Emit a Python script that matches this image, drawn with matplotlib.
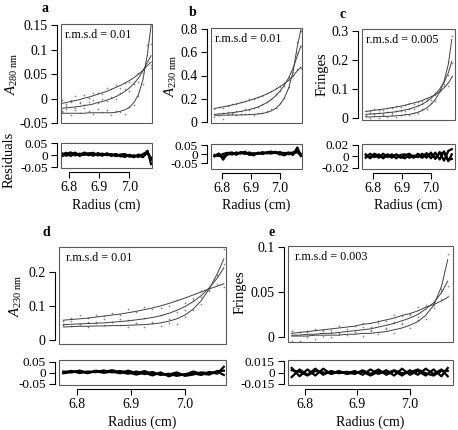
import numpy as np
import matplotlib
matplotlib.use("Agg")
import matplotlib.pyplot as plt
from matplotlib.patches import Rectangle

plt.rcParams["font.family"] = ["Liberation Serif", "DejaVu Serif"]
plt.rcParams["mathtext.fontset"] = "custom"
plt.rcParams["mathtext.rm"] = "Liberation Serif"
plt.rcParams["mathtext.it"] = "Liberation Serif:italic"

W, H = 458, 430

# ── Data ─────────────────────────────────────────────────────────────────────
radius = [6.775, 6.79, 6.805, 6.82, 6.835, 6.85, 6.865, 6.88, 6.895, 6.91, 6.925,
          6.94, 6.955, 6.97, 6.985, 7.0, 7.015, 7.03, 7.045, 7.06, 7.072]

# panel a: A280
fit_a1 = [-0.030, -0.030, -0.030, -0.030, -0.030, -0.030, -0.029, -0.029, -0.029, -0.029, -0.029,
          -0.029, -0.028, -0.026, -0.023, -0.018, -0.008, 0.008, 0.039, 0.092, 0.150]
fit_a2 = [-0.020, -0.019, -0.018, -0.017, -0.016, -0.014, -0.013, -0.011, -0.008, -0.006, -0.003,
          0.000, 0.004, 0.009, 0.015, 0.022, 0.031, 0.042, 0.057, 0.075, 0.088]
fit_a3 = [-0.010, -0.008, -0.006, -0.004, -0.002, 0.001, 0.003, 0.006, 0.009, 0.012, 0.015,
          0.019, 0.023, 0.027, 0.032, 0.037, 0.043, 0.050, 0.058, 0.068, 0.075]
res_a1 = [0.002, 0.009, -0.004, 0.007, 0.001, 0.010, 0.004, -0.003, 0.008, 0.002, 0.005,
          -0.004, 0.003, -0.002, -0.008, 0.001, -0.006, -0.002, -0.009, 0.018, -0.038]
res_a2 = [-0.006, 0.004, 0.011, -0.002, 0.006, 0.000, 0.007, 0.009, -0.002, 0.006, -0.001,
          0.004, -0.005, 0.002, 0.004, -0.007, -0.001, -0.008, 0.004, 0.014, -0.020]
res_a3 = [0.008, -0.003, 0.003, 0.010, -0.004, 0.006, -0.001, 0.005, 0.003, -0.003, 0.007,
          0.000, 0.004, -0.006, 0.001, -0.003, -0.009, 0.002, -0.006, 0.008, -0.012]

# panel b: A230
fit_b1 = [0.060, 0.060, 0.061, 0.061, 0.062, 0.062, 0.063, 0.064, 0.066, 0.068, 0.071,
          0.076, 0.084, 0.097, 0.118, 0.152, 0.206, 0.292, 0.430, 0.650, 0.790]
fit_b2 = [0.068, 0.071, 0.074, 0.078, 0.082, 0.087, 0.093, 0.100, 0.109, 0.119, 0.132,
          0.148, 0.168, 0.193, 0.225, 0.265, 0.316, 0.380, 0.460, 0.570, 0.650]
fit_b3 = [0.118, 0.125, 0.132, 0.140, 0.148, 0.157, 0.166, 0.176, 0.187, 0.199, 0.212,
          0.226, 0.242, 0.260, 0.280, 0.305, 0.330, 0.360, 0.395, 0.440, 0.470]
res_b1 = [-0.012, 0.004, -0.030, 0.006, 0.010, -0.003, 0.012, 0.008, 0.002, -0.006, 0.009,
          0.004, 0.011, 0.015, 0.006, 0.012, 0.004, 0.010, -0.004, 0.038, -0.010]
res_b2 = [-0.004, -0.010, 0.002, 0.008, -0.002, 0.010, 0.004, 0.014, -0.004, 0.006, 0.002,
          0.012, 0.005, 0.008, 0.014, 0.004, -0.006, 0.006, 0.010, 0.020, 0.002]
res_b3 = [-0.008, 0.002, -0.014, -0.002, 0.006, 0.002, 0.008, 0.002, 0.010, 0.000, 0.007,
          0.001, 0.009, 0.004, 0.010, -0.002, 0.008, 0.000, 0.004, 0.012, -0.008]

# panel c: fringes
fit_c1 = [0.003, 0.003, 0.004, 0.004, 0.005, 0.005, 0.006, 0.007, 0.008, 0.010, 0.012,
          0.015, 0.019, 0.025, 0.034, 0.046, 0.063, 0.088, 0.125, 0.185, 0.270]
fit_c2 = [0.012, 0.013, 0.014, 0.015, 0.016, 0.018, 0.019, 0.021, 0.024, 0.027, 0.030,
          0.035, 0.040, 0.047, 0.056, 0.067, 0.081, 0.099, 0.122, 0.155, 0.195]
fit_c3 = [0.022, 0.024, 0.026, 0.028, 0.030, 0.032, 0.035, 0.037, 0.040, 0.043, 0.047,
          0.051, 0.055, 0.060, 0.066, 0.072, 0.080, 0.090, 0.103, 0.120, 0.140]
res_c1 = [0.003, -0.004, 0.002, -0.003, 0.004, -0.002, 0.003, -0.004, 0.002, 0.003, -0.003,
          0.001, -0.002, 0.004, -0.003, 0.006, -0.005, 0.007, -0.008, 0.009, 0.012]
res_c2 = [-0.003, 0.004, -0.002, 0.003, -0.004, 0.002, -0.003, 0.003, -0.001, -0.004, 0.002,
          -0.003, 0.004, -0.001, 0.005, -0.004, 0.006, -0.006, 0.008, -0.007, -0.005]
res_c3 = [0.001, -0.002, 0.004, 0.000, -0.002, 0.003, 0.000, 0.002, -0.003, 0.001, 0.004,
          -0.002, 0.001, -0.003, 0.002, 0.003, -0.002, 0.004, 0.006, -0.009, 0.003]

# panel d: A230
fit_d1 = [0.038, 0.039, 0.040, 0.040, 0.041, 0.041, 0.042, 0.042, 0.043, 0.044, 0.045,
          0.047, 0.050, 0.055, 0.062, 0.073, 0.090, 0.115, 0.150, 0.195, 0.238]
fit_d2 = [0.045, 0.046, 0.047, 0.048, 0.049, 0.050, 0.052, 0.054, 0.056, 0.059, 0.062,
          0.066, 0.071, 0.078, 0.087, 0.098, 0.112, 0.130, 0.153, 0.182, 0.212]
fit_d3 = [0.058, 0.060, 0.062, 0.064, 0.067, 0.070, 0.073, 0.076, 0.080, 0.084, 0.089,
          0.094, 0.100, 0.107, 0.115, 0.123, 0.132, 0.141, 0.150, 0.158, 0.165]
res_d1 = [0.006, 0.002, 0.008, -0.002, 0.010, 0.004, 0.012, 0.003, -0.004, 0.006, -0.006,
          0.004, -0.010, -0.004, -0.014, -0.006, -0.002, -0.010, 0.004, -0.004, 0.028]
res_d2 = [0.002, 0.009, -0.001, 0.006, 0.003, 0.011, 0.002, 0.008, 0.002, -0.008, 0.001,
          -0.012, 0.002, -0.016, -0.004, -0.010, 0.006, -0.004, -0.008, 0.008, 0.010]
res_d3 = [-0.002, 0.004, 0.010, 0.001, 0.007, 0.000, 0.006, -0.002, 0.010, -0.002, 0.008,
          -0.004, -0.006, -0.008, 0.002, -0.014, -0.008, 0.002, -0.002, 0.006, -0.010]

# panel e: fringes
fit_e1 = [0.001, 0.001, 0.001, 0.002, 0.002, 0.002, 0.002, 0.003, 0.003, 0.004, 0.004,
          0.005, 0.006, 0.008, 0.010, 0.013, 0.017, 0.024, 0.035, 0.056, 0.086]
fit_e2 = [0.002, 0.002, 0.003, 0.003, 0.004, 0.004, 0.005, 0.006, 0.007, 0.008, 0.009,
          0.011, 0.013, 0.015, 0.018, 0.021, 0.025, 0.031, 0.038, 0.049, 0.062]
fit_e3 = [0.004, 0.005, 0.006, 0.007, 0.008, 0.009, 0.010, 0.011, 0.012, 0.014, 0.015,
          0.017, 0.019, 0.021, 0.024, 0.026, 0.029, 0.033, 0.036, 0.040, 0.044]
res_e1 = [0.006, -0.005, 0.004, -0.004, 0.005, -0.002, 0.001, -0.001, 0.002, -0.003, 0.004,
          -0.002, 0.003, -0.004, 0.005, -0.003, 0.002, -0.004, 0.004, -0.005, 0.006]
res_e2 = [-0.006, 0.004, -0.003, 0.005, -0.003, 0.002, -0.001, 0.001, -0.002, 0.003, -0.002,
          0.004, -0.003, 0.002, -0.004, 0.003, -0.003, 0.005, -0.002, 0.004, -0.005]
res_e3 = [0.003, 0.001, -0.004, 0.002, 0.000, -0.001, 0.002, -0.002, 0.000, 0.001, -0.004,
          0.001, -0.001, 0.003, -0.001, 0.000, 0.004, -0.001, -0.004, 0.002, 0.002]

x_ticks = [6.8, 6.9, 7.0]
x_ticklabels = ["6.8", "6.9", "7.0"]


def rect(x0, y0, x1, y1):
    # pixel box (top-left origin) -> figure fraction
    return [x0 / W, 1 - y1 / H, (x1 - x0) / W, (y1 - y0) / H]


def r_style(ax, yticks, ylabels, xticks=None, xlabels=None, ysize=10):
    ax.add_patch(Rectangle((0, 0), 1, 1, transform=ax.transAxes, fill=False,
                           edgecolor="0.35", lw=0.8, clip_on=False, zorder=5))
    for s in ["top", "right"]:
        ax.spines[s].set_visible(False)
    ax.spines["left"].set_position(("outward", 3))
    ax.spines["left"].set_bounds(yticks[0], yticks[-1])
    ax.set_yticks(yticks)
    ax.set_yticklabels(ylabels)
    if xticks is None:
        ax.spines["bottom"].set_visible(False)
        ax.set_xticks([])
    else:
        ax.spines["bottom"].set_position(("outward", 3))
        ax.spines["bottom"].set_bounds(xticks[0], xticks[-1])
        ax.set_xticks(xticks)
        ax.set_xticklabels(xlabels)
    for s in ["left", "bottom"]:
        ax.spines[s].set_linewidth(0.8)
    ax.tick_params(direction="out", length=4, width=0.8, pad=2.5, labelsize=10)
    ax.tick_params(axis="y", labelsize=ysize)


def panel(main_box, res_box, xlim, ylim, rlim, fits, resids, yt, ytl, rt, rtl, rmsd):
    ax = fig.add_axes(rect(*main_box))
    axr = fig.add_axes(rect(*res_box))
    r = np.array(radius)
    for f, e in zip(fits, resids):
        ax.plot(r, np.array(f) + np.array(e), ".", ms=2.4, color="0.5", mec="none")
        ax.plot(r, f, color="0.25", lw=0.7)
        axr.plot(r, e, color="black", lw=1.6)
    ax.set_xlim(*xlim)
    ax.set_ylim(*ylim)
    axr.set_xlim(*xlim)
    axr.set_ylim(*rlim)
    ax.text(0.04, 0.95, f"r.m.s.d = {rmsd}", transform=ax.transAxes,
            ha="left", va="top", fontsize=8.7)
    r_style(ax, yt, ytl)
    r_style(axr, rt, rtl, x_ticks, x_ticklabels, ysize=9.5)
    return ax, axr


fig = plt.figure(figsize=(W / 100, H / 100), dpi=100)

panel((61, 24, 152, 123), (61, 143, 152, 168), (6.773, 7.075), (-0.048, 0.153),
      (-0.054, 0.05), [fit_a1, fit_a2, fit_a3], [res_a1, res_a2, res_a3],
      [-0.05, 0, 0.05, 0.1, 0.15], ["-0.05", "0", "0.05", "0.1", "0.15"],
      [-0.05, 0, 0.05], ["-0.05", "0", "0.05"], "0.01")
panel((211, 28, 302, 123), (211, 144, 302, 169), (6.763, 7.076), (-0.006, 0.806),
      (-0.082, 0.057), [fit_b1, fit_b2, fit_b3], [res_b1, res_b2, res_b3],
      [0, 0.2, 0.4, 0.6, 0.8], ["0", "0.2", "0.4", "0.6", "0.8"],
      [-0.05, 0, 0.05], ["-0.05", "0", "0.05"], "0.01")
panel((362, 29, 455, 120), (362, 144, 455, 169), (6.762, 7.083), (-0.0076, 0.306),
      (-0.0226, 0.021), [fit_c1, fit_c2, fit_c3], [res_c1, res_c2, res_c3],
      [0, 0.1, 0.2, 0.3], ["0", "0.1", "0.2", "0.3"],
      [-0.02, 0, 0.02], ["-0.02", "0", "0.02"], "0.005")
panel((59, 247, 226, 344), (59, 360, 226, 385), (6.767, 7.076), (-0.012, 0.273),
      (-0.056, 0.059), [fit_d1, fit_d2, fit_d3], [res_d1, res_d2, res_d3],
      [0, 0.1, 0.2], ["0", "0.1", "0.2"],
      [-0.05, 0, 0.05], ["-0.05", "0", "0.05"], "0.01")
panel((288, 246, 453, 342), (288, 360, 453, 385), (6.768, 7.082), (-0.0056, 0.1011),
      (-0.0165, 0.0165), [fit_e1, fit_e2, fit_e3], [res_e1, res_e2, res_e3],
      [0, 0.05, 0.1], ["0", "0.05", "0.1"],
      [-0.015, 0, 0.015], ["-0.015", "0", "0.015"], "0.003")


def ftext(x, y, s, **kw):
    fig.text(x / W, 1 - y / H, s, ha="center", va="center", **kw)


# panel letters
for (x, y), s in zip([(45, 8), (193, 13), (343, 14), (46, 232), (272, 232)],
                     ["a", "b", "c", "d", "e"]):
    ftext(x, y, s, fontsize=10, fontweight="bold")

# axis titles
for x, y in [(106, 205), (256, 205), (408, 205), (142, 422), (370, 422)]:
    ftext(x, y, "Radius (cm)", fontsize=10)
ftext(12, 74, r"$A_{\mathrm{280\ nm}}$", fontsize=10.5, rotation=90)
ftext(171, 76, r"$A_{\mathrm{230\ nm}}$", fontsize=10.5, rotation=90)
ftext(322, 74, "Fringes", fontsize=10.5, rotation=90)
ftext(16, 296, r"$A_{\mathrm{230\ nm}}$", fontsize=10.5, rotation=90)
ftext(240, 292, "Fringes", fontsize=10.5, rotation=90)
ftext(9, 160, "Residuals", fontsize=10.5, rotation=90)

fig.savefig("out.png", dpi=100)
